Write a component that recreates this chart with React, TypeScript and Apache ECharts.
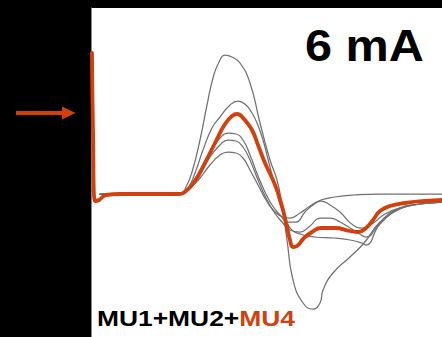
import { useEffect, useRef } from "react";
import * as echarts from "echarts";

const ORANGE = "#d2400e";
const GRAY = "#707070";

// Each trace: [time (ms), amplitude (0.1 mV)]
const mu4: [number, number][] = [
  [0.1, 14.1], [0.2, 6.4], [0.4, -0.7], [0.8, -0.6], [1.5, -0.1], [2.9, 0], [5.9, 0],
  [8.7, 0], [9.5, 0.3], [10.4, 1.3], [11.4, 3.1], [12.4, 5.1], [13.4, 7.0], [14.1, 7.8],
  [14.6, 8.0], [15.3, 7.5], [16.1, 6.4], [16.7, 4.9], [17.4, 3.1], [18.2, 1.4], [18.7, 0.1],
  [19.2, -1.6], [19.6, -3.3], [19.9, -4.6], [20.2, -5.3], [20.6, -5.2], [21.3, -4.4],
  [22.1, -3.8], [23.0, -3.4], [24.4, -3.4], [25.9, -3.7], [26.7, -3.8], [27.5, -3.4],
  [28.2, -2.6], [28.9, -1.7], [29.9, -1.2], [31.4, -0.9], [33.4, -0.7], [35.1, -0.6],
];

const traceA: [number, number][] = [
  [0.9, 0], [8.9, 0], [9.5, 0.7], [10.1, 2.2], [10.9, 5.4], [11.6, 8.9], [12.2, 11.6],
  [12.8, 13.2], [13.4, 13.9], [14.1, 13.7], [14.9, 13.1], [15.9, 11.1], [16.9, 7.1],
  [17.9, 3.4], [18.6, 1.4], [19.1, -1.1], [19.6, -4.6], [20.2, -8.6], [21.2, -10.9],
  [22.2, -11.5], [22.9, -10.9], [23.2, -9.6], [24.2, -7.9], [25.9, -6.3], [27.3, -4.9],
  [28.9, -2.8], [30.9, -1.4], [32.9, -1.0], [35.1, -0.8],
];

const traceB: [number, number][] = [
  [0.9, 0], [8.9, 0], [9.7, 0.6], [10.4, 2.1], [11.2, 4.4], [12.1, 6.6], [12.9, 7.7],
  [13.9, 8.9], [14.7, 9.3], [15.5, 8.9], [16.1, 8.1], [16.6, 7.1], [17.2, 5.4], [17.9, 2.7],
  [18.5, 0.4], [19.1, -1.6], [19.9, -3.4], [20.9, -4.0], [22.4, -4.3], [24.4, -4.4],
  [25.9, -4.6], [27.1, -4.9], [27.5, -5.1], [28.9, -3.0], [30.9, -1.5], [32.9, -1.0],
  [35.1, -0.8],
];

const traceC: [number, number][] = [
  [0.9, 0], [8.9, 0], [9.9, 0.8], [10.9, 2.4], [11.9, 4.2], [12.9, 5.6], [13.7, 6.1],
  [14.5, 6.0], [15.2, 5.4], [15.9, 3.9], [16.7, 1.8], [17.4, 0.2], [18.1, -1.1], [18.9, -2.1],
  [19.7, -2.8], [20.5, -2.8], [21.4, -1.8], [22.2, -1.1], [23.0, -0.7], [23.9, -1.1],
  [24.9, -1.8], [26.2, -3.1], [27.2, -3.4], [28.1, -3.0], [29.4, -2.0], [30.9, -1.4],
  [32.9, -1.0], [35.1, -0.8],
];

const traceD: [number, number][] = [
  [0.9, 0], [8.9, 0], [9.9, 0.7], [10.9, 2.1], [11.9, 3.7], [12.9, 4.9], [13.7, 5.4],
  [14.5, 5.3], [15.2, 4.7], [15.9, 3.4], [16.7, 1.4], [17.5, -0.4], [18.3, -1.8], [19.1, -2.8],
  [19.9, -3.6], [20.9, -3.8], [21.9, -3.2], [22.9, -2.4], [23.9, -2.4], [24.9, -2.8],
  [25.9, -3.4], [26.7, -3.9], [27.5, -4.3], [28.9, -2.9], [30.9, -1.4], [32.9, -1.0],
  [35.1, -0.8],
];

const traceE: [number, number][] = [
  [0.9, 0], [8.9, 0], [9.9, 0.6], [10.9, 1.6], [11.9, 2.9], [12.9, 3.9], [13.7, 4.2],
  [14.5, 4.1], [15.2, 3.6], [15.9, 2.4], [16.7, 0.9], [17.5, -0.6], [18.4, -1.8], [19.2, -2.3],
  [19.9, -2.4], [20.9, -1.9], [21.9, -1.2], [23.0, -0.6], [24.4, -0.3], [26.3, -0.1],
  [28.9, 0], [31.9, 0], [35.1, 0],
];

const grayTraces = [traceA, traceB, traceC, traceD, traceE];

const timeRange = [0, 35.1];
const ampRange = [-14.3, 18.6];

const stimulusLabel = "6 mA";
const comboBlack = "MU1+MU2+";
const comboOrange = "MU4";

export default function App() {
  const ref = useRef<HTMLDivElement>(null);

  useEffect(() => {
    if (!ref.current) return;
    const chart = echarts.init(ref.current, undefined, { renderer: "svg" });

    const lineSeries = (data: [number, number][], color: string, width: number, z: number) => ({
      type: "line",
      data,
      symbol: "none",
      smooth: 0.5,
      lineStyle: { color, width, cap: "round", join: "round" },
      z,
      silent: true,
    });

    chart.setOption({
      animation: false,
      backgroundColor: "#000",
      grid: {
        left: 91,
        right: 0,
        top: 8,
        bottom: 0,
        show: true,
        backgroundColor: "#fff",
        borderWidth: 0,
      },
      xAxis: {
        type: "value",
        min: timeRange[0],
        max: timeRange[1],
        axisLine: { show: false },
        axisTick: { show: false },
        axisLabel: { show: false },
        splitLine: { show: false },
      },
      yAxis: {
        type: "value",
        min: ampRange[0],
        max: ampRange[1],
        axisLine: { show: true, onZero: false, lineStyle: { color: "#8a8a8a", width: 1 } },
        axisTick: { show: false },
        axisLabel: { show: false },
        splitLine: { show: false },
      },
      series: [
        ...grayTraces.map((t, i) => lineSeries(t, GRAY, 1.25, 2 + i)),
        lineSeries(mu4, ORANGE, 3.8, 10),
      ],
      graphic: [
        {
          type: "rect",
          shape: { x: 16, y: 111, width: 48, height: 4 },
          style: { fill: ORANGE },
        },
        {
          type: "polygon",
          shape: { points: [[62, 106.5], [75.5, 113], [62, 119.5]] },
          style: { fill: ORANGE },
        },
        {
          type: "text",
          x: 305,
          y: 46,
          scaleX: 1.08,
          style: {
            text: stimulusLabel,
            fill: "#000",
            font: 'bold 45px "Liberation Sans", Arial, sans-serif',
            align: "left",
            verticalAlign: "middle",
          },
        },
        {
          type: "text",
          x: 97,
          y: 318,
          scaleX: 1.2,
          style: {
            text: `{k|${comboBlack}}{o|${comboOrange}}`,
            font: 'bold 22px "Liberation Sans", Arial, sans-serif',
            align: "left",
            verticalAlign: "middle",
            rich: {
              k: { fill: "#000", font: 'bold 22px "Liberation Sans", Arial, sans-serif' },
              o: { fill: ORANGE, font: 'bold 22px "Liberation Sans", Arial, sans-serif' },
            },
          },
        },
      ],
    });

    return () => chart.dispose();
  }, []);

  return (
    <div
      ref={ref}
      style={{ position: "fixed", left: 0, top: 0, width: 442, height: 337 }}
    />
  );
}
